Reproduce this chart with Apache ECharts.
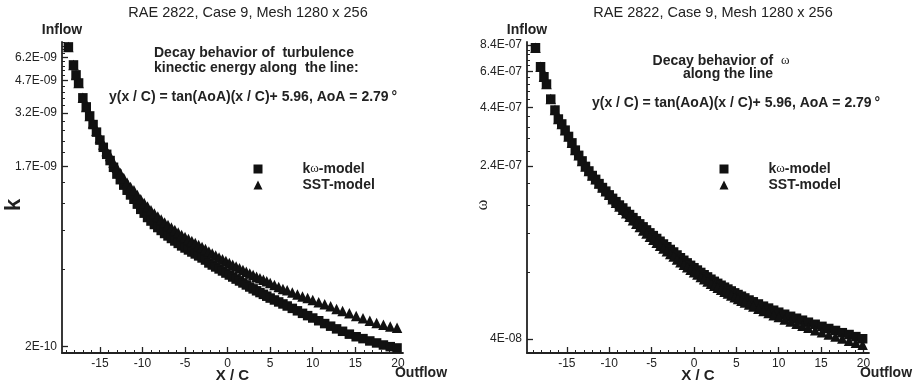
<!DOCTYPE html>
<html>
<head>
<meta charset="utf-8">
<script src="https://cdn.jsdelivr.net/npm/echarts@6/dist/echarts.min.js"></script>
<style>
  html, body { margin: 0; padding: 0; background: #fff; }
  #chart { width: 916px; height: 385px; }
</style>
</head>
<body>
<div id="chart"></div>
<script>
// ---- left panel: turbulence kinetic energy k along the line ----
const kX = [-18.7, -18.1, -17.8, -17.5, -17.0, -16.6, -16.2, -15.8, -15.4, -15.0, -14.6, -14.2, -13.8, -13.4, -13.0,
  -12.6, -12.2, -11.8, -11.4, -11.0, -10.6, -10.2, -9.8, -9.4, -9.0, -8.6, -8.2, -7.8, -7.4, -7.0, -6.6, -6.2, -5.8,
  -5.4, -5.0, -4.6, -4.2, -3.8, -3.4, -3.0, -2.6, -2.2, -1.8, -1.4, -1.0, -0.6, -0.2, 0.2, 0.6, 1.0, 1.4, 1.8, 2.2,
  2.6, 3.0, 3.4, 3.8, 4.2, 4.6, 5.0, 5.5, 6.0, 6.5, 7.0, 7.6, 8.2, 8.8, 9.4, 10.0, 10.7, 11.4, 12.1, 12.8, 13.5,
  14.3, 15.1, 15.9, 16.7, 17.5, 18.3, 19.1, 19.9];
const kOmegaK = [7.01e-9, 5.66e-9, 5.03e-9, 4.57e-9, 3.83e-9, 3.44e-9, 3.09e-9, 2.79e-9, 2.55e-9, 2.32e-9, 2.13e-9,
  1.96e-9, 1.82e-9, 1.68e-9, 1.55e-9, 1.45e-9, 1.36e-9, 1.28e-9, 1.21e-9, 1.15e-9, 1.085e-9, 1.02e-9, 9.75e-10,
  9.26e-10, 8.88e-10, 8.52e-10, 8.22e-10, 7.94e-10, 7.66e-10, 7.44e-10, 7.22e-10, 7.01e-10, 6.81e-10, 6.61e-10,
  6.45e-10, 6.30e-10, 6.15e-10, 6.01e-10, 5.87e-10, 5.73e-10, 5.59e-10, 5.40e-10, 5.27e-10, 5.15e-10, 5.03e-10,
  4.91e-10, 4.79e-10, 4.68e-10, 4.57e-10, 4.46e-10, 4.36e-10, 4.26e-10, 4.16e-10, 4.06e-10, 3.97e-10, 3.88e-10,
  3.80e-10, 3.72e-10, 3.64e-10, 3.56e-10, 3.48e-10, 3.40e-10, 3.32e-10, 3.24e-10, 3.15e-10, 3.06e-10, 2.97e-10,
  2.89e-10, 2.81e-10, 2.72e-10, 2.63e-10, 2.55e-10, 2.47e-10, 2.40e-10, 2.32e-10, 2.25e-10, 2.20e-10, 2.14e-10,
  2.09e-10, 2.04e-10, 2.00e-10, 1.97e-10];
const sstK = [7.01e-9, 5.66e-9, 5.03e-9, 4.57e-9, 3.83e-9, 3.44e-9, 3.09e-9, 2.83e-9, 2.59e-9, 2.38e-9, 2.20e-9,
  2.04e-9, 1.92e-9, 1.78e-9, 1.67e-9, 1.57e-9, 1.48e-9, 1.40e-9, 1.33e-9, 1.28e-9, 1.21e-9, 1.15e-9, 1.10e-9,
  1.055e-9, 1.01e-9, 9.71e-10, 9.37e-10, 9.04e-10, 8.73e-10, 8.47e-10, 8.22e-10, 7.99e-10, 7.75e-10, 7.52e-10,
  7.35e-10, 7.18e-10, 7.01e-10, 6.85e-10, 6.68e-10, 6.53e-10, 6.37e-10, 6.19e-10, 6.04e-10, 5.90e-10, 5.76e-10,
  5.64e-10, 5.53e-10, 5.40e-10, 5.28e-10, 5.18e-10, 5.07e-10, 4.97e-10, 4.86e-10, 4.77e-10, 4.68e-10, 4.59e-10,
  4.51e-10, 4.42e-10, 4.34e-10, 4.26e-10, 4.16e-10, 4.06e-10, 3.97e-10, 3.90e-10, 3.80e-10, 3.71e-10, 3.63e-10,
  3.56e-10, 3.48e-10, 3.39e-10, 3.31e-10, 3.23e-10, 3.13e-10, 3.05e-10, 2.97e-10, 2.88e-10, 2.80e-10, 2.72e-10,
  2.65e-10, 2.59e-10, 2.54e-10, 2.50e-10];
const kTickVals = [6.2e-9, 4.7e-9, 3.2e-9, 1.7e-9, 2e-10];
const kTickLabels = ['6.2E-09', '4.7E-09', '3.2E-09', '1.7E-09', '2E-10'];
const kMinorVals = [7.4e-9, 7.1e-9, 6.8e-9, 6.5e-9, 5.9e-9, 5.6e-9, 5.3e-9, 5.0e-9, 4.4e-9, 4.1e-9, 3.8e-9, 3.5e-9,
  2.9e-9, 2.6e-9, 2.3e-9, 2.0e-9, 1.4e-9, 1.1e-9, 8e-10, 5e-10];

// ---- right panel: omega along the line ----
const wX = [-18.7, -18.1, -17.7, -17.4, -16.9, -16.4, -16.0, -15.6, -15.2, -14.8, -14.4, -14.0, -13.6, -13.2, -12.8,
  -12.4, -12.0, -11.6, -11.2, -10.8, -10.4, -10.0, -9.6, -9.2, -8.8, -8.4, -8.0, -7.6, -7.2, -6.8, -6.4, -6.0, -5.6,
  -5.2, -4.8, -4.4, -4.0, -3.6, -3.2, -2.8, -2.4, -2.0, -1.6, -1.2, -0.8, -0.4, 0.0, 0.4, 0.8, 1.2, 1.6, 2.0, 2.4,
  2.8, 3.2, 3.6, 4.0, 4.4, 4.8, 5.2, 5.6, 6.0, 6.5, 7.0, 7.6, 8.2, 8.8, 9.4, 10.0, 10.7, 11.4, 12.1, 12.8, 13.5,
  14.3, 15.1, 15.9, 16.7, 17.5, 18.3, 19.1, 19.9];
const kOmegaW = [8.17e-7, 6.71e-7, 6.05e-7, 5.61e-7, 4.80e-7, 4.285e-7, 3.905e-7, 3.71e-7, 3.48e-7, 3.26e-7, 3.05e-7,
  2.83e-7, 2.68e-7, 2.53e-7, 2.39e-7, 2.28e-7, 2.175e-7, 2.09e-7, 2.00e-7, 1.92e-7, 1.85e-7, 1.78e-7,
  1.717e-7, 1.659e-7, 1.602e-7, 1.554e-7, 1.500e-7, 1.452e-7, 1.406e-7, 1.360e-7, 1.318e-7, 1.278e-7, 1.238e-7,
  1.201e-7, 1.167e-7, 1.133e-7, 1.101e-7, 1.070e-7, 1.040e-7, 1.011e-7, 9.85e-8, 9.55e-8, 9.28e-8, 9.04e-8,
  8.80e-8, 8.58e-8, 8.37e-8, 8.17e-8, 7.97e-8, 7.78e-8, 7.61e-8, 7.43e-8, 7.27e-8, 7.12e-8, 6.98e-8, 6.84e-8,
  6.71e-8, 6.58e-8, 6.45e-8, 6.34e-8, 6.23e-8, 6.12e-8, 5.99e-8, 5.88e-8, 5.75e-8, 5.62e-8, 5.51e-8, 5.39e-8,
  5.28e-8, 5.17e-8, 5.06e-8, 4.96e-8, 4.86e-8, 4.76e-8, 4.66e-8, 4.56e-8, 4.46e-8, 4.37e-8, 4.27e-8, 4.19e-8,
  4.10e-8, 4.01e-8];
const sstW = [8.17e-7, 6.71e-7, 6.05e-7, 5.61e-7, 4.80e-7, 4.285e-7, 3.905e-7, 3.71e-7, 3.48e-7, 3.26e-7, 3.05e-7,
  2.83e-7, 2.68e-7, 2.53e-7, 2.39e-7, 2.28e-7, 2.175e-7, 2.09e-7, 2.00e-7, 1.92e-7, 1.85e-7, 1.78e-7,
  1.703e-7, 1.641e-7, 1.578e-7, 1.527e-7, 1.470e-7, 1.418e-7, 1.368e-7, 1.320e-7, 1.275e-7, 1.232e-7, 1.192e-7,
  1.153e-7, 1.118e-7, 1.084e-7, 1.051e-7, 1.021e-7, 9.93e-8, 9.65e-8, 9.40e-8, 9.12e-8, 8.86e-8, 8.63e-8,
  8.40e-8, 8.19e-8, 7.99e-8, 7.80e-8, 7.61e-8, 7.42e-8, 7.26e-8, 7.09e-8, 6.94e-8, 6.80e-8, 6.66e-8, 6.53e-8,
  6.40e-8, 6.28e-8, 6.16e-8, 6.05e-8, 5.94e-8, 5.84e-8, 5.72e-8, 5.60e-8, 5.47e-8, 5.35e-8, 5.23e-8, 5.12e-8,
  5.02e-8, 4.90e-8, 4.79e-8, 4.68e-8, 4.59e-8, 4.49e-8, 4.38e-8, 4.29e-8, 4.19e-8, 4.10e-8, 4.02e-8, 3.93e-8,
  3.85e-8, 3.77e-8];
const wTickVals = [8.4e-7, 6.4e-7, 4.4e-7, 2.4e-7, 4e-8];
const wTickLabels = ['8.4E-07', '6.4E-07', '4.4E-07', '2.4E-07', '4E-08'];
const wMinorVals = [8.0e-7, 7.6e-7, 7.2e-7, 6.8e-7, 6.0e-7, 5.6e-7, 5.2e-7, 4.8e-7, 4.0e-7, 3.6e-7, 3.2e-7, 2.8e-7,
  2.0e-7, 1.6e-7, 1.2e-7, 8e-8];

// x ticks shared by both panels
const xTicks = [-15, -10, -5, 0, 5, 10, 15, 20];
const xMinor = [-19, -18, -17, -16, -14, -13, -12, -11, -9, -8, -7, -6, -4, -3, -2, -1, 1, 2, 3, 4, 6, 7, 8, 9,
  11, 12, 13, 14, 16, 17, 18, 19];

const FONT = '"Liberation Sans", Arial, Helvetica, sans-serif';
const SERIF = '"Liberation Serif", "DejaVu Serif", serif';
const INK = '#222';
const MARK = '#111';

const lg = v => Math.log10(v);
const pairs = (xs, ys) => xs.map((x, i) => [x, lg(ys[i])]);
const labelFor = (vals, labels) => v => {
    const i = vals.findIndex(t => Math.abs(lg(t) - v) < 1e-6);
    return i < 0 ? '' : labels[i];
};

const makeX = (grid, min, max) => [{
    gridIndex: grid, type: 'value', min: min, max: max, position: 'bottom',
    name: 'X / C', nameLocation: 'middle', nameGap: 15, nameMoveOverlap: false,
    nameTextStyle: { color: INK, fontSize: 15, fontWeight: 'bold', fontFamily: FONT },
    axisLine: { onZero: false, lineStyle: { color: INK, width: 1.8 } },
    axisTick: { inside: true, length: 6, customValues: xTicks, lineStyle: { color: INK, width: 1.3 } },
    axisLabel: { customValues: xTicks, color: INK, fontSize: 12, fontFamily: FONT, margin: 5 },
    splitLine: { show: false }
}, {
    gridIndex: grid, type: 'value', min: min, max: max, position: 'bottom',
    axisLine: { show: false, onZero: false },
    axisTick: { inside: true, length: 3, customValues: xMinor, lineStyle: { color: INK, width: 1 } },
    axisLabel: { show: false },
    splitLine: { show: false }
}];

const makeY = (grid, min, max, vals, labels, minor) => [{
    gridIndex: grid, type: 'value', min: lg(min), max: lg(max), position: 'left',
    axisLine: { onZero: false, lineStyle: { color: INK, width: 1.8 } },
    axisTick: { inside: true, length: 6, customValues: vals.map(lg), lineStyle: { color: INK, width: 1.3 } },
    axisLabel: { customValues: vals.map(lg), formatter: labelFor(vals, labels),
        color: INK, fontSize: 12, fontFamily: FONT, margin: 5 },
    splitLine: { show: false }
}, {
    gridIndex: grid, type: 'value', min: lg(min), max: lg(max), position: 'left',
    axisLine: { show: false, onZero: false },
    axisTick: { inside: true, length: 3, customValues: minor.map(lg), lineStyle: { color: INK, width: 1 } },
    axisLabel: { show: false },
    splitLine: { show: false }
}];

const scatter = (name, symbol, size, xi, yi, data) => ({
    name: name, type: 'scatter', symbol: symbol, symbolSize: size,
    xAxisIndex: xi, yAxisIndex: yi, data: data, silent: true,
    itemStyle: { color: MARK, opacity: 1 }
});

const legendFmt = name => name === 'kω-model' ? '{b|k}{w|ω}{b|-model}' : '{b|' + name + '}';
const makeLegend = (left) => ({
    left: left, top: 157, orient: 'vertical', itemWidth: 9, itemHeight: 9, itemGap: 2,
    data: [{ name: 'kω-model', icon: 'rect' }, { name: 'SST-model', icon: 'triangle' }],
    formatter: legendFmt, selectedMode: false,
    itemStyle: { color: MARK },
    textStyle: {
        padding: [0, 0, 0, 35], lineHeight: 14,
        rich: {
            b: { fontSize: 14, fontWeight: 'bold', fontFamily: FONT, color: INK, lineHeight: 14 },
            w: { fontSize: 13, fontFamily: SERIF, color: INK, lineHeight: 14 }
        }
    }
});

const txt = (x, y, text, opts) => ({
    type: 'text', x: x, y: y, silent: true,
    style: Object.assign({
        text: text, fill: INK, font: 'bold 14px ' + FONT,
        textAlign: 'center', textVerticalAlign: 'middle'
    }, opts || {})
});

const omegaRich = {
    b: { font: 'bold 14px ' + FONT, fill: INK },
    w: { font: '13px ' + SERIF, fill: INK }
};

const chart = echarts.init(document.getElementById('chart'));

chart.setOption({
    animation: false,
    backgroundColor: '#fff',
    grid: [
        { left: 62, top: 42, width: 341, height: 311, containLabel: false, outerBoundsMode: 'none' },
        { left: 527, top: 42, width: 342, height: 311, containLabel: false, outerBoundsMode: 'none' }
    ],
    xAxis: [].concat(makeX(0, -19.45, 20.6), makeX(1, -19.7, 20.65)),
    yAxis: [].concat(
        makeY(0, 1.855e-10, 7.43e-9, kTickVals, kTickLabels, kMinorVals),
        makeY(1, 3.46e-8, 8.67e-7, wTickVals, wTickLabels, wMinorVals)
    ),
    legend: [makeLegend(248.5), makeLegend(714.5)],
    series: [
        scatter('kω-model', 'rect', 9.5, 0, 0, pairs(kX, kOmegaK)),
        scatter('SST-model', 'triangle', 10.5, 0, 0, pairs(kX, sstK)),
        scatter('kω-model', 'rect', 9.5, 2, 2, pairs(wX, kOmegaW)),
        scatter('SST-model', 'triangle', 10.5, 2, 2, pairs(wX, sstW))
    ],
    graphic: [
        txt(248, 13, 'RAE 2822, Case 9, Mesh 1280 x 256', { font: '14.5px ' + FONT }),
        txt(713, 13, 'RAE 2822, Case 9, Mesh 1280 x 256', { font: '14.5px ' + FONT }),
        txt(62, 30, 'Inflow'),
        txt(527, 30, 'Inflow'),
        txt(421, 373, 'Outflow'),
        txt(886, 373, 'Outflow'),
        txt(154, 53, 'Decay behavior of  turbulence', { textAlign: 'left' }),
        txt(154, 68, 'kinectic energy along  the line:', { textAlign: 'left' }),
        txt(253, 97, 'y(x / C) = tan(AoA)(x / C)+ 5.96, AoA = 2.79\u2009°'),
        txt(721, 61, '{b|Decay behavior of  }{w|ω}', { rich: omegaRich }),
        txt(728, 74, 'along the line'),
        txt(736, 103, 'y(x / C) = tan(AoA)(x / C)+ 5.96, AoA = 2.79\u2009°'),
        Object.assign(txt(14, 205, 'k', { font: 'bold 22px ' + FONT }), { rotation: Math.PI / 2 }),
        Object.assign(txt(483, 205, 'ω', { font: '16px ' + SERIF }), { rotation: Math.PI / 2 })
    ]
});
</script>
</body>
</html>
